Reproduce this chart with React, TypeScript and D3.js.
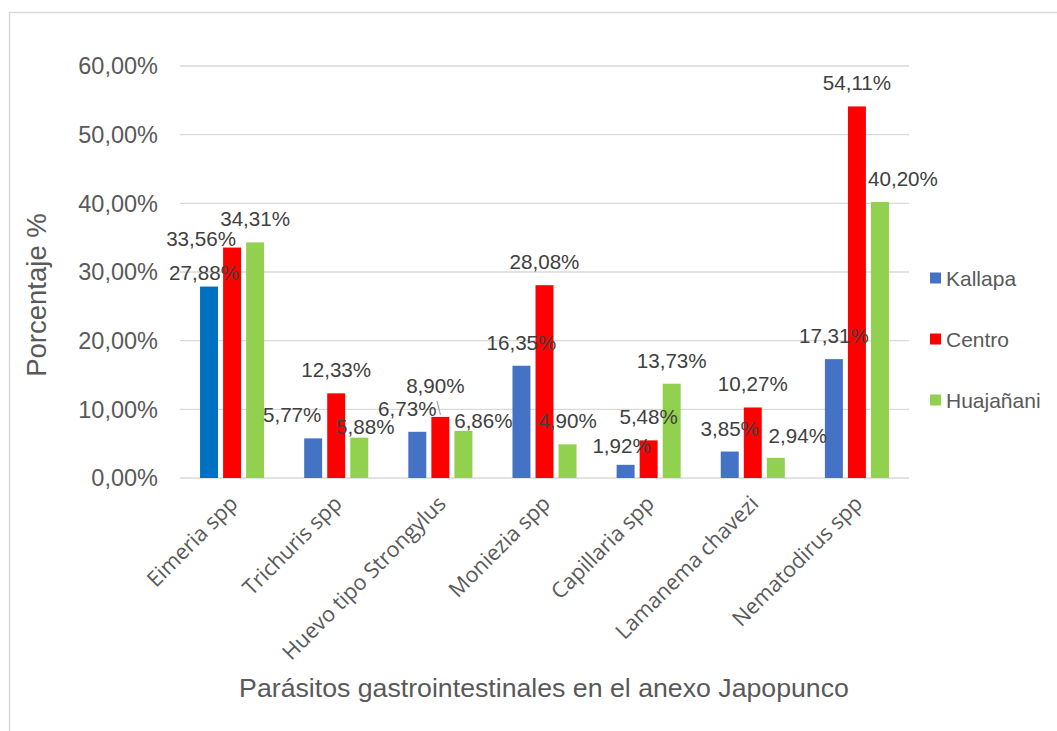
import * as d3 from "d3";

const categories = [
  "Eimeria spp",
  "Trichuris spp",
  "Huevo tipo Strongylus",
  "Moniezia spp",
  "Capillaria spp",
  "Lamanema chavezi",
  "Nematodirus spp",
];
const seriesNames = ["Kallapa", "Centro", "Huajañani"];
const kallapa = [27.88, 5.77, 6.73, 16.35, 1.92, 3.85, 17.31];
const centro = [33.56, 12.33, 8.9, 28.08, 5.48, 10.27, 54.11];
const huajanani = [34.31, 5.88, 6.86, 4.9, 13.73, 2.94, 40.2];
const yTicks = [0, 10, 20, 30, 40, 50, 60];

const colors = ["#4472C4", "#FF0000", "#92D050"];
// the first Kallapa bar is a darker blue in the original
const pointColors: Record<string, string> = { "0-0": "#0070C0" };
// hand-moved labels (series-category -> [dx, dy])
const labelShift: Record<string, [number, number]> = {
  "0-0": [-5, 9],
  "1-0": [-31, 14],
  "0-1": [-21, 0],
  "2-1": [6, 12],
  "0-2": [-10, 0],
  "1-2": [-5, -8],
  "2-2": [20, 13],
  "0-4": [-4, 4],
  "2-5": [22, 1],
  "2-6": [23, 0],
};

const W = 1057;
const H = 731;
const left = 180;
const right = 909;
const top = 66;
const bottom = 478;

const fmt = (v: number) => v.toFixed(2).replace(".", ",") + "%";

export default function App() {
  const values = [kallapa, centro, huajanani];
  const x0 = d3.scaleBand().domain(categories).range([left, right]);
  const x1 = d3
    .scaleBand()
    .domain(seriesNames)
    .range([0, x0.bandwidth()])
    .paddingInner(0.22)
    .paddingOuter(0.87);
  const y = d3.scaleLinear().domain([0, 60]).range([bottom, top]);

  return (
    <svg
      width={W}
      height={H}
      style={{ position: "absolute", left: 0, top: 0, background: "#fff" }}
    >
      <rect x={9.5} y={12.5} width={1200} height={900} fill="#fff" stroke="#d9d9d9" strokeWidth={1.5} />

      {yTicks.map((t) => (
        <g key={t}>
          <line x1={left} x2={right} y1={y(t)} y2={y(t)} stroke="#d9d9d9" strokeWidth={1.3} />
          <text
            x={158}
            y={y(t)}
            dy="0.36em"
            textAnchor="end"
            fontFamily="Liberation Sans, Arial"
            fontSize={23.5}
            fill="#595959"
          >
            {fmt(t)}
          </text>
        </g>
      ))}

      {values.map((vals, s) =>
        vals.map((v, c) => {
          const key = `${s}-${c}`;
          const bx = (x0(categories[c]) || 0) + (x1(seriesNames[s]) || 0);
          return (
            <rect
              key={key}
              x={bx}
              y={y(v)}
              width={x1.bandwidth()}
              height={y(0) - y(v)}
              fill={pointColors[key] || colors[s]}
            />
          );
        })
      )}

      {/* leader line for 8,90% */}
      <line x1={437} y1={401} x2={440.5} y2={415} stroke="#a6a6a6" strokeWidth={1.2} />

      {values.map((vals, s) =>
        vals.map((v, c) => {
          const key = `${s}-${c}`;
          const [dx, dy] = labelShift[key] || [0, 0];
          const cx = (x0(categories[c]) || 0) + (x1(seriesNames[s]) || 0) + x1.bandwidth() / 2;
          return (
            <text
              key={"l" + key}
              x={cx + dx}
              y={y(v) - 16 + dy}
              textAnchor="middle"
              fontFamily="Liberation Sans, Arial"
              fontSize={20.6}
              fill="#404040"
            >
              {fmt(v)}
            </text>
          );
        })
      )}

      {categories.map((c) => {
        const cx = (x0(c) || 0) + x0.bandwidth() / 2;
        return (
          <text
            key={c}
            transform={`translate(${cx + 7},${505}) rotate(-45)`}
            textAnchor="end"
            fontFamily="Open Sans"
            fontSize={21.5}
            fill="#595959"
          >
            {c}
          </text>
        );
      })}

      <text
        transform="translate(46,295) rotate(-90)"
        textAnchor="middle"
        fontFamily="Liberation Sans, Arial"
        fontSize={27.5}
        fill="#595959"
      >
        Porcentaje %
      </text>
      <text
        x={544}
        y={697}
        textAnchor="middle"
        fontFamily="Liberation Sans, Arial"
        fontSize={26.7}
        fill="#595959"
      >
        Parásitos gastrointestinales en el anexo Japopunco
      </text>

      {seriesNames.map((n, i) => {
        const ly = 278 + i * 61;
        return (
          <g key={n}>
            <rect x={930} y={ly - 5.5} width={11} height={11} fill={colors[i]} />
            <text
              x={946}
              y={ly}
              dy="0.36em"
              fontFamily="Liberation Sans, Arial"
              fontSize={21}
              fill="#595959"
            >
              {n}
            </text>
          </g>
        );
      })}
    </svg>
  );
}
